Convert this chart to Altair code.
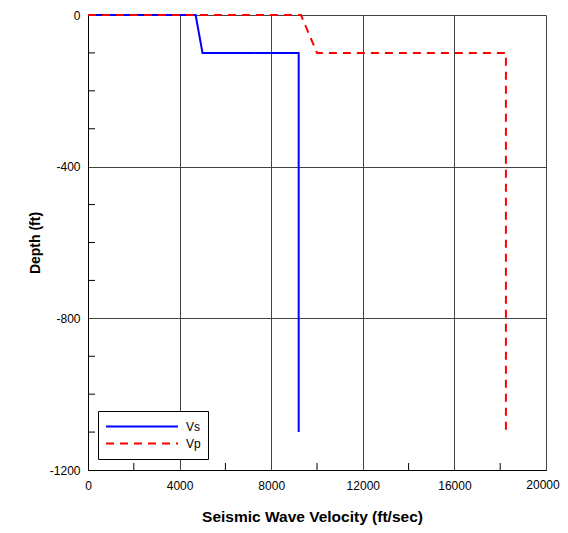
import altair as alt
import pandas as pd

# ---- data ----
vs_velocity = [0, 4700, 5000, 9200, 9200]
vs_depth = [0, 0, -100, -100, -1100]
vp_velocity = [0, 9300, 10000, 18250, 18250]
vp_depth = [0, 0, -100, -100, -1100]

x_major = [0, 4000, 8000, 12000, 16000, 20000]
x_minor = [2000, 6000, 10000, 14000, 18000]
x_last_label = [20000]
y_major = [-1200, -800, -400, 0]
y_minor = [-1100, -1000, -900, -700, -600, -500, -300, -200, -100]

rows = []
for i, (v, d) in enumerate(zip(vs_velocity, vs_depth)):
    rows.append({"series": "Vs", "velocity": v, "depth": d, "idx": i})
for i, (v, d) in enumerate(zip(vp_velocity, vp_depth)):
    rows.append({"series": "Vp", "velocity": v, "depth": d, "idx": i})
df = pd.DataFrame(rows)

FONT = "Liberation Sans"
W, H = 458, 455

xscale = alt.Scale(domain=[0, 20000], nice=False, zero=False)
yscale = alt.Scale(domain=[-1200, 0], nice=False, zero=False)

legend = alt.Legend(
    title=None, orient="none", legendX=10, legendY=396,
    symbolType="stroke", symbolSize=5184, symbolStrokeWidth=2,
    strokeColor="black", fillColor="white", padding=7,
    labelFont=FONT, labelFontSize=12, labelColor="black",
    clipHeight=17, rowPadding=0, labelOffset=7,
)

lines = alt.Chart(df).mark_line(strokeWidth=2).encode(
    x=alt.X("velocity:Q", scale=xscale,
            axis=alt.Axis(values=x_major,
                          labelExpr="datum.value == 20000 ? '' : toString(datum.value)",
                          grid=True, gridColor="#444", gridWidth=1, tickSize=0, labelPadding=10,
                          labelFlush=False, labelOverlap=False, domainColor="black",
                          labelFont=FONT, labelFontSize=12, labelColor="black",
                          title="Seismic Wave Velocity (ft/sec)", titleFont=FONT,
                          titleFontSize=15.5, titleFontWeight="bold", titlePadding=18,
                          titleX=224, titleColor="black")),
    y=alt.Y("depth:Q", scale=yscale,
            axis=alt.Axis(values=y_major, labelExpr="toString(datum.value)", grid=True,
                          gridColor="#444", gridWidth=1, tickSize=0, labelPadding=8,
                          labelFlush=False, labelOverlap=False, domainColor="black",
                          labelFont=FONT, labelFontSize=12, labelColor="black",
                          title="Depth (ft)", titleFont=FONT, titleFontSize=14,
                          titleFontWeight="bold", titlePadding=7, titleColor="black")),
    color=alt.Color("series:N", scale=alt.Scale(domain=["Vs", "Vp"], range=["#0000FF", "#FF0000"]),
                    legend=legend),
    strokeDash=alt.StrokeDash("series:N", scale=alt.Scale(domain=["Vs", "Vp"], range=[[1, 0], [8, 6]]),
                              legend=legend),
    order=alt.Order("idx:Q"),
)

ymin_df = pd.DataFrame({"depth": y_minor})
yticks = alt.Chart(ymin_df).mark_rule(color="black", strokeWidth=1).encode(
    y=alt.Y("depth:Q", scale=yscale),
    x=alt.value(0), x2=alt.value(7),
)
xmin_df = pd.DataFrame({"velocity": x_minor})
xticks = alt.Chart(xmin_df).mark_rule(color="black", strokeWidth=1).encode(
    x=alt.X("velocity:Q", scale=xscale),
    y=alt.value(H - 7), y2=alt.value(H),
)

last_df = pd.DataFrame({"velocity": x_last_label, "label": [str(v) for v in x_last_label]})
last_label = alt.Chart(last_df).mark_text(
    font=FONT, fontSize=12, color="black", align="center", baseline="top", dx=-3,
).encode(
    x=alt.X("velocity:Q", scale=xscale),
    y=alt.value(H + 10),
    text="label:N",
)

chart = alt.layer(lines, yticks, xticks, last_label).properties(
    width=W, height=H,
    autosize=alt.AutoSizeParams(type="none"),
    padding={"left": 80, "top": 7, "right": 14, "bottom": 55},
).configure_view(stroke="#444", strokeWidth=1).configure(background="white")

chart.save("out.html", embed_options={"renderer": "svg", "actions": False})
